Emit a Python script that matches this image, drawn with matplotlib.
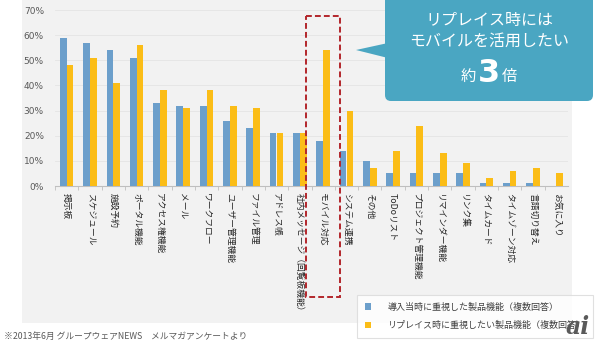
import matplotlib
matplotlib.use("Agg")
import matplotlib.pyplot as plt
from matplotlib.patches import Rectangle, FancyBboxPatch, Polygon, Patch

plt.rcParams["font.family"] = ["Noto Sans CJK JP", "DejaVu Sans"]

# ---- data (percent) ----
categories = [
    "掲示板", "スケジュール", "施設予約", "ポータル機能", "アクセス権機能",
    "メール", "ワークフロー", "ユーザー管理機能", "ファイル管理", "アドレス帳",
    "社内メッセージ（回覧板機能）", "モバイル対応", "システム連携", "その他",
    "ToDoリスト", "プロジェクト管理機能", "リマインダー機能", "リンク集",
    "タイムカード", "タイムゾーン対応", "言語切り替え", "お気に入り",
]
at_intro = [59, 57, 54, 51, 33, 32, 32, 26, 23, 21, 21, 18, 14, 10,
            5, 5, 5, 5, 1, 1, 1, 0]
at_replace = [48, 51, 41, 56, 38, 31, 38, 32, 31, 21, 21, 54, 30, 7,
              14, 24, 13, 9, 3, 6, 7, 5]
series_names = ["導入当時に重視した製品機能（複数回答）",
                "リプレイス時に重視したい製品機能（複数回答）"]
yticks = [0, 10, 20, 30, 40, 50, 60, 70]

BLUE = "#6c9fcb"
YELLOW = "#fbbd17"
TEAL = "#4aa6c2"
PANEL = "#f2f2f2"

W, H = 600, 344
fig = plt.figure(figsize=(6.0, 3.44), dpi=100)

# background grey panel
bg = fig.add_axes([0, 0, 1, 1], zorder=0)
bg.set_xlim(0, W)
bg.set_ylim(H, 0)
bg.axis("off")
bg.add_patch(Rectangle((22, -2), 550, 325, facecolor=PANEL, edgecolor="none"))

# main chart
ax = fig.add_axes([55 / W, 1 - 186 / H, 513 / W, 176 / H], zorder=1)
ax.patch.set_alpha(0)
x = list(range(len(categories)))
bw = 0.29
ax.bar([i - 0.146 for i in x], at_intro, width=bw, color=BLUE, zorder=3)
ax.bar([i + 0.146 for i in x], at_replace, width=bw, color=YELLOW, zorder=3)
ax.set_xlim(-0.5, len(categories) - 0.5)
ax.set_ylim(0, 70)
ax.set_yticks(yticks)
ax.set_yticklabels([f"{v}%" for v in yticks], fontsize=6.5, color="#595959",
                   family="DejaVu Sans")
ax.tick_params(axis="y", length=0, pad=8)
ax.set_xticks(x)
ax.set_xticklabels(categories, rotation=-90, fontsize=6.3, color="#262626",
                   va="top", ha="center")
ax.tick_params(axis="x", which="major", length=0, pad=5)
ax.set_xticks([i + 0.5 for i in x[:-1]] + [-0.5], minor=True)
ax.tick_params(axis="x", which="minor", length=3, color="#bfbfbf")
ax.grid(axis="y", color="#e4e4e4", lw=0.6, zorder=0)
for s in ["top", "right", "left"]:
    ax.spines[s].set_visible(False)
ax.spines["bottom"].set_color("#bfbfbf")

# overlay: dashed box, callout, footnote
ov = fig.add_axes([0, 0, 1, 1], zorder=4)
ov.patch.set_alpha(0)
ov.set_xlim(0, W)
ov.set_ylim(H, 0)
ov.axis("off")
ov.add_patch(Rectangle((306, 16), 34, 281, fill=False, edgecolor="#b3262b",
                       lw=1.4, ls=(0, (3, 1.6))))
ov.add_patch(FancyBboxPatch((385, -10), 208, 111,
                            boxstyle="round,pad=0,rounding_size=6",
                            facecolor=TEAL, edgecolor="none"))
ov.add_patch(Polygon([(356, 50), (388, 43), (388, 58)], closed=True,
                     facecolor=TEAL, edgecolor="none"))
ov.text(489, 20, "リプレイス時には", color="white", fontsize=11.5,
        ha="center", va="center")
ov.text(489, 41, "モバイルを活用したい", color="white", fontsize=11.5,
        ha="center", va="center")
ov.text(476, 76, "約", color="white", fontsize=11, ha="right", va="center")
ov.text(478, 73, "3", color="white", fontsize=23, fontweight="bold",
        ha="left", va="center", family="DejaVu Sans")
ov.text(502, 76, "倍", color="white", fontsize=11, ha="left", va="center")
ov.text(4, 336, "※2013年6月 グループウェアNEWS　メルマガアンケートより",
        fontsize=6.3, color="#595959", ha="left", va="center")

handles = [Patch(facecolor=BLUE, edgecolor="none"),
           Patch(facecolor=YELLOW, edgecolor="none")]
leg = fig.legend(handles, series_names, loc="upper left",
                 bbox_to_anchor=(352 / W, 1 - 290 / H), fontsize=6.5,
                 frameon=True, fancybox=False, edgecolor="#d9d9d9",
                 handlelength=0.7, handleheight=0.7, handletextpad=1.8,
                 labelspacing=1.0, borderpad=0.9, labelcolor="#404040")
leg.get_frame().set_linewidth(0.8)
leg.set_zorder(5)
fig.text(578 / W, 1 - 327 / H, "ai", fontsize=17, fontweight="bold",
         style="italic", color="#5a5a5a", ha="center", va="center",
         family="DejaVu Serif", zorder=6)

fig.savefig("out.png", dpi=100)
